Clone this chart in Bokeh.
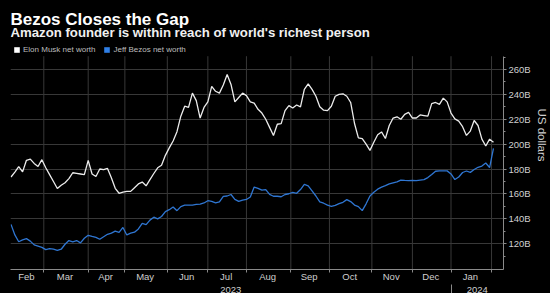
import pandas as pd
from bokeh.plotting import figure
from bokeh.models import (ColumnDataSource, FixedTicker, Label, Legend, LegendItem,
                          LinearAxis, PrintfTickFormatter, Range1d)
from bokeh.embed import file_html
from bokeh.resources import INLINE

TITLE = "Bezos Closes the Gap"
SUBTITLE = "Amazon founder is within reach of world's richest person"
MUSK_LABEL = "Elon Musk net worth"
BEZOS_LABEL = "Jeff Bezos net worth"
Y_AXIS_LABEL = "US dollars"

# Net worth, billions of US dollars, every other trading session
dates = [
    "2023-02-03", "2023-02-07", "2023-02-09", "2023-02-13", "2023-02-15", "2023-02-17",
    "2023-02-22", "2023-02-24", "2023-02-28", "2023-03-02", "2023-03-06", "2023-03-08",
    "2023-03-10", "2023-03-14", "2023-03-16", "2023-03-20", "2023-03-22", "2023-03-24",
    "2023-03-28", "2023-03-30", "2023-04-03", "2023-04-05", "2023-04-10", "2023-04-12",
    "2023-04-14", "2023-04-18", "2023-04-20", "2023-04-24", "2023-04-26", "2023-04-28",
    "2023-05-02", "2023-05-04", "2023-05-08", "2023-05-10", "2023-05-12", "2023-05-16",
    "2023-05-18", "2023-05-22", "2023-05-24", "2023-05-26", "2023-05-31", "2023-06-02",
    "2023-06-06", "2023-06-08", "2023-06-12", "2023-06-14", "2023-06-16", "2023-06-21",
    "2023-06-23", "2023-06-27", "2023-06-29", "2023-07-03", "2023-07-06", "2023-07-10",
    "2023-07-12", "2023-07-14", "2023-07-18", "2023-07-20", "2023-07-24", "2023-07-26",
    "2023-07-28", "2023-08-01", "2023-08-03", "2023-08-07", "2023-08-09", "2023-08-11",
    "2023-08-15", "2023-08-17", "2023-08-21", "2023-08-23", "2023-08-25", "2023-08-29",
    "2023-08-31", "2023-09-05", "2023-09-07", "2023-09-11", "2023-09-13", "2023-09-15",
    "2023-09-19", "2023-09-21", "2023-09-25", "2023-09-27", "2023-09-29", "2023-10-03",
    "2023-10-05", "2023-10-09", "2023-10-11", "2023-10-13", "2023-10-17", "2023-10-19",
    "2023-10-23", "2023-10-25", "2023-10-27", "2023-10-31", "2023-11-02", "2023-11-06",
    "2023-11-08", "2023-11-10", "2023-11-14", "2023-11-16", "2023-11-20", "2023-11-22",
    "2023-11-27", "2023-11-29", "2023-12-01", "2023-12-05", "2023-12-07", "2023-12-11",
    "2023-12-13", "2023-12-15", "2023-12-19", "2023-12-21", "2023-12-26", "2023-12-28",
    "2024-01-02", "2024-01-04", "2024-01-08", "2024-01-10", "2024-01-12", "2024-01-17",
    "2024-01-19", "2024-01-23", "2024-01-25", "2024-01-29", "2024-01-31", "2024-02-02",
]
musk_bn = [
    173.6, 177.5, 182.0, 177.7, 187.0, 188.0, 184.5, 182.0, 187.5, 181.0, 175.5, 170.0,
    164.3, 167.0, 169.0, 172.3, 177.0, 176.5, 176.0, 175.5, 187.0, 176.0, 174.0, 180.0,
    179.5, 180.5, 173.0, 164.5, 160.5, 161.5, 162.0, 162.0, 165.0, 168.0, 169.5, 166.5,
    171.5, 176.4, 181.0, 183.0, 191.0, 197.0, 202.5, 210.0, 222.5, 230.5, 229.5, 241.0,
    235.0, 221.0, 229.5, 234.0, 246.5, 242.5, 241.0, 247.5, 256.0, 248.0, 234.0, 237.5,
    241.0, 239.0, 234.0, 233.0, 228.0, 225.0, 220.0, 213.5, 207.0, 216.0, 216.5, 227.0,
    231.0, 229.0, 231.5, 230.0, 244.0, 248.5, 244.0, 238.5, 230.0, 227.3, 227.0, 230.5,
    238.5, 240.0, 240.5, 238.5, 233.5, 216.6, 205.0, 204.5, 200.0, 195.0, 201.5, 207.5,
    209.8, 204.5, 215.0, 221.0, 222.0, 220.0, 224.0, 225.5, 221.0, 221.0, 223.5, 223.0,
    222.5, 232.6, 233.5, 232.0, 237.0, 234.0, 225.0, 220.3, 218.5, 214.0, 207.0, 210.5,
    219.0, 215.0, 204.0, 198.5, 204.0, 201.5,
]
bezos_bn = [
    135.5, 127.0, 121.5, 123.0, 124.0, 122.0, 119.0, 118.0, 117.0, 115.2, 116.0, 115.5,
    114.5, 115.5, 119.5, 122.5, 121.5, 122.5, 120.6, 124.3, 126.7, 125.8, 125.0, 123.5,
    125.5, 127.5, 128.5, 130.0, 129.0, 133.0, 127.0, 128.4, 129.2, 131.8, 136.2, 135.3,
    138.9, 141.3, 139.9, 141.8, 145.8, 147.3, 149.5, 146.5, 149.8, 150.9, 150.9, 150.9,
    151.5, 151.8, 152.7, 154.5, 154.0, 152.8, 153.5, 158.0, 158.3, 159.5, 155.6, 154.0,
    155.0, 155.5, 157.5, 165.5, 164.4, 163.0, 163.5, 159.6, 158.1, 158.1, 157.7, 159.5,
    160.1, 161.3, 160.5, 163.5, 167.6, 166.5, 162.5, 158.3, 153.5, 152.5, 151.0, 150.0,
    150.8, 152.1, 153.2, 155.4, 153.8, 151.0, 149.8, 146.5, 152.0, 158.3, 161.3, 163.8,
    165.4, 166.6, 168.0, 168.8, 169.6, 171.0, 170.8, 170.7, 170.8, 170.6, 171.1, 171.5,
    173.1, 175.5, 178.2, 178.5, 178.5, 178.5, 176.0, 171.5, 173.6, 177.2, 178.4, 177.3,
    179.6, 181.4, 182.4, 184.8, 181.2, 196.5,
]
y_ticks = [120, 140, 160, 180, 200, 220, 240, 260]
month_names = ["Jan", "Feb", "Mar", "Apr", "May", "Jun",
               "Jul", "Aug", "Sep", "Oct", "Nov", "Dec"]

# US exchange holidays inside the period; the x axis counts trading sessions
market_holidays = ["2023-02-20", "2023-04-07", "2023-05-29", "2023-06-19", "2023-07-04",
                   "2023-09-04", "2023-11-23", "2023-12-25", "2024-01-01", "2024-01-15"]
sessions = pd.bdate_range("2023-02-03", "2024-02-02", freq="C", holidays=market_holidays)
session_of = {d: i for i, d in enumerate(sessions)}
x = [session_of[pd.Timestamp(d)] for d in dates]
src = ColumnDataSource(dict(x=x, musk=musk_bn, bezos=bezos_bn))

# first / last session of every month and year
month_first, month_last, year_first = {}, {}, {}
for i, d in enumerate(sessions):
    month_first.setdefault((d.year, d.month), i)
    month_last[(d.year, d.month)] = i
    year_first.setdefault(d.year, i)
month_bounds = list(month_first.values())[1:]
month_labels = {}
for key, i0 in month_first.items():
    i1 = month_last[key]
    if i1 - i0 >= 4:
        month_labels[(i0 + i1) / 2] = month_names[key[1] - 1]

x_start, x_end = -0.26, 255.2
new_year = year_first[2024]
year_labels = {(x_start + new_year) / 2: "2023", (new_year + x_end) / 2: "2024"}

# value window of the chart area; the frame runs on above it to hold the header
y_lo, y_hi = 99.2, 270.7
y_top = 315.5

GRID = "#383838"
AXIS = "#8a8a8a"
TICK_TEXT = "#cfcfcf"
FONT = "Liberation Sans"

p = figure(frame_width=493, frame_height=269,
           x_range=Range1d(x_start, x_end), y_range=Range1d(y_lo, y_top),
           y_axis_location="right", toolbar_location=None, output_backend="svg",
           min_border_left=10, min_border_top=0, min_border_right=47, min_border_bottom=24,
           background_fill_color="black", border_fill_color="black")
p.outline_line_color = None

# month gridlines, limited to the chart area
p.xgrid.visible = False
p.segment(x0=month_bounds, y0=[y_lo] * len(month_bounds),
          x1=month_bounds, y1=[y_hi] * len(month_bounds),
          line_color=GRID, line_width=1)
p.ygrid.ticker = FixedTicker(ticks=y_ticks)
p.ygrid.grid_line_color = GRID

p.line("x", "musk", source=src, line_color="#ececec", line_width=1.3)
p.line("x", "bezos", source=src, line_color="#2f76d2", line_width=1.3)

# month axis
xa = p.xaxis[0]
xa.ticker = FixedTicker(ticks=list(month_labels), minor_ticks=month_bounds)
xa.major_label_overrides = month_labels
xa.major_tick_in = 0
xa.major_tick_out = 0
xa.minor_tick_in = 0
xa.minor_tick_out = 3
xa.minor_tick_line_color = AXIS
xa.axis_line_color = AXIS
xa.major_label_standoff = -2
xa.axis_label_standoff = 0
xa.major_label_text_font = FONT
xa.major_label_text_font_size = "9.5px"
xa.major_label_text_color = TICK_TEXT

# year axis under the months; its tick marks the turn of the year
year_axis = LinearAxis(ticker=FixedTicker(ticks=list(year_labels), minor_ticks=[new_year]),
                       major_label_overrides=year_labels,
                       axis_line_color=None, major_tick_in=0, major_tick_out=0,
                       minor_tick_in=0, minor_tick_out=14, minor_tick_line_color=AXIS,
                       major_label_standoff=-12, axis_label_standoff=0,
                       major_label_text_font=FONT,
                       major_label_text_font_size="9.5px", major_label_text_color=TICK_TEXT)
p.add_layout(year_axis, "below")

# value axis on the right
ya = p.yaxis[0]
ya.bounds = (y_lo, y_hi)
ya.ticker = FixedTicker(ticks=y_ticks, minor_ticks=list(range(110, 271, 10)))
ya.formatter = PrintfTickFormatter(format="%dB")
ya.axis_line_color = AXIS
ya.major_tick_line_color = AXIS
ya.minor_tick_line_color = AXIS
ya.major_tick_in = 0
ya.major_tick_out = 3
ya.minor_tick_in = 0
ya.minor_tick_out = 2
ya.major_label_standoff = 2
ya.major_label_text_font = FONT
ya.major_label_text_font_size = "9.5px"
ya.major_label_text_color = TICK_TEXT
ya.axis_label = Y_AXIS_LABEL
ya.axis_label_standoff = 2
ya.axis_label_text_font = FONT
ya.axis_label_text_font_size = "11.5px"
ya.axis_label_text_font_style = "normal"
ya.axis_label_text_color = TICK_TEXT

# headline and subheading
p.add_layout(Label(x=0, y=250, x_units="screen", y_units="screen", text=TITLE,
                   text_font=FONT, text_font_size="17px", text_font_style="bold",
                   text_color="white", text_baseline="alphabetic", text_align="left"))
p.add_layout(Label(x=0, y=237, x_units="screen", y_units="screen", text=SUBTITLE,
                   text_font=FONT, text_font_size="13.2px", text_font_style="bold",
                   text_color="#f0f0f0", text_baseline="alphabetic", text_align="left"))

# legend swatches (key glyphs only, no drawn data)
nan = float("nan")
musk_key = p.quad(left=[nan], right=[nan], top=[nan], bottom=[nan],
                  fill_color="white", line_color=None)
bezos_key = p.quad(left=[nan], right=[nan], top=[nan], bottom=[nan],
                   fill_color="#2f7fe6", line_color=None)
legend = Legend(items=[LegendItem(label=MUSK_LABEL, renderers=[musk_key]),
                       LegendItem(label=BEZOS_LABEL, renderers=[bezos_key])],
                location=(3, 215), orientation="horizontal",
                glyph_width=7, glyph_height=7, label_standoff=3, spacing=8,
                padding=0, margin=0, label_height=8, label_width=10,
                label_text_font=FONT, label_text_font_size="8px", label_text_color="#bdbdbd",
                background_fill_alpha=0, border_line_color=None)
p.add_layout(legend)

html = file_html(p, INLINE).replace("<body>", '<body style="margin:0;background:#000000">')
open("out.html", "w").write(html)
